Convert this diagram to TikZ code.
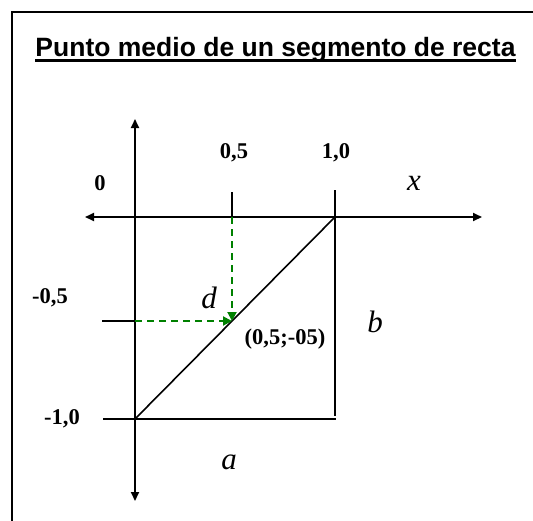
\documentclass[tikz,border=0pt]{standalone}
\usepackage{fontspec}
\setmainfont{Liberation Serif}
\newfontfamily\titlefont{Liberation Sans}
\usetikzlibrary{arrows.meta}

\begin{document}
\begin{tikzpicture}[x=1pt, y=-1pt,
  axis/.style={line width=2pt, -{Triangle[length=9pt,width=8pt]}},
  edge/.style={line width=1.6pt},
  guide/.style={line width=2pt, dashed, dash pattern=on 7pt off 5pt,
    draw=green!50!black, -{Triangle[length=9pt,width=9pt]}},
  num/.style={font=\fontsize{22.5}{25}\selectfont\bfseries, inner sep=0pt},
  var/.style={font=\fontsize{31}{34}\selectfont\itshape, inner sep=0pt}]
  \useasboundingbox (0,0) rectangle (533,520);
  \draw[line width=2pt] (12,12) rectangle (545,535);
  % title
  \node [inner sep=0pt, anchor=base,
    font=\titlefont\fontsize{26.5}{30}\selectfont\bfseries] (ttl) at (275.5,56)
    {Punto medio de un segmento de recta};
  \draw [line width=2.5pt] ([yshift=-4.5pt]ttl.base west) -- ([yshift=-4.5pt]ttl.base east);
  % axes
  \coordinate (O) at (135,217);
  \coordinate (ytop) at (135,119);
  \coordinate (ybot) at (135,501);
  \coordinate (xleft) at (85,217);
  \coordinate (xright) at (482,217);
  \draw [axis] (O) -- (ytop);
  \draw [axis] (O) -- (ybot);
  \draw [axis] (O) -- (xleft);
  \draw [axis] (O) -- (xright);
  % segment and box
  \coordinate (A) at (135,419);
  \coordinate (B) at (335,217);
  \coordinate (Btop) at (335,190);
  \coordinate (C) at (335,416);
  \coordinate (Aleft) at (103,419);
  \coordinate (Cright) at (336,419);
  \coordinate (Htick) at (232,192);
  \coordinate (H) at (232,217);
  \coordinate (Vtick) at (102,321);
  \coordinate (V) at (135,321);
  \coordinate (M) at (232,321);
  \draw [edge] (A) -- (B);
  \draw [edge] (Btop) -- (C);
  \draw [edge] (Aleft) -- (Cright);
  \draw [edge] (Htick) -- (H);
  \draw [edge] (Vtick) -- (V);
  \draw [guide] (H) -- (M);
  \draw [guide] (V) -- (M);
  % labels
  \node [num] (n0) at (100,183) {0};
  \node [num] (nhalf) at (234,153) {0,5};
  \node [num] (none) at (336,153) {1,0};
  \node [num] (mhalf) at (50,298) {-0,5};
  \node [num] (mone) at (62,419) {-1,0};
  \node [num] (mid) at (285,339) {(0,5;-05)};
  \node [var] (lx) at (414,183) {x};
  \node [var] (ld) at (209,298) {d};
  \node [var] (lb) at (375,322) {b};
  \node [var] (la) at (229,462) {a};
\end{tikzpicture}
\end{document}
